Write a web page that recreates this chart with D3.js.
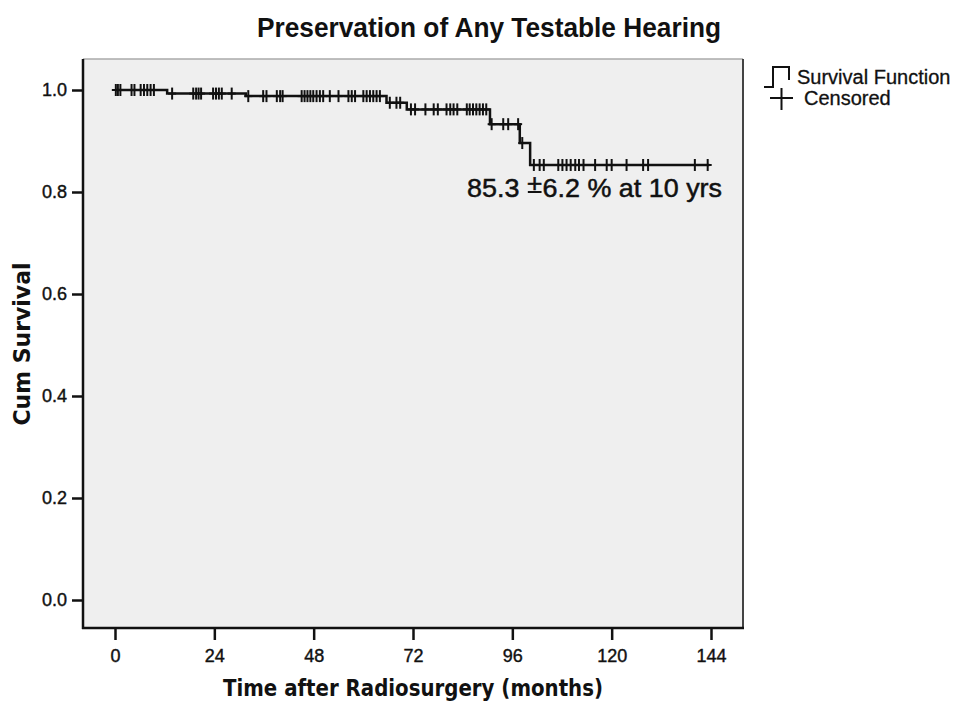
<!DOCTYPE html>
<html>
<head>
<meta charset="utf-8">
<script src="https://cdn.jsdelivr.net/npm/d3@7"></script>
<style>
  body { margin: 0; background: #fff; }
  svg { display: block; }
  text { font-family: "Liberation Sans", Arial, sans-serif; fill: #111; }
</style>
</head>
<body>
<svg id="chart" width="963" height="703"></svg>
<script>
// Kaplan-Meier steps: time of each event (months) and survival after it
const eventTimes = [12.6, 31.6, 65.6, 70.5, 90.6, 97.8, 100.3]
const eventSurvival = [0.993, 0.988, 0.975, 0.962, 0.933, 0.896, 0.853]
const followUpEnd = 143.6

// censored patients (months)
const censoredTimes = [
    0.2, 0.7, 1.3, 4.0, 4.7, 6.2, 7.0, 7.8, 8.6, 9.4,
    13.8, 18.9, 19.6, 20.2, 20.8, 23.7, 24.4, 25.1, 25.8, 28.2,
    32.2, 35.8, 36.6, 39.1, 39.9, 40.5, 45.1, 45.8, 46.5, 47.2, 47.9, 48.7, 49.5, 50.3,
    51.9, 54.0, 56.4, 57.2, 58.0, 60.0, 60.8, 61.6, 62.4, 63.2, 64.0,
    66.4, 68.0, 68.9,
    71.5, 72.5, 75.0, 77.0, 78.0, 80.1, 81.0, 81.8, 82.7, 85.0, 85.7, 86.5, 87.3, 88.1, 88.9, 89.7,
    91.0, 93.8, 95.0, 97.4,
    98.4,
    101.2, 102.6, 103.6, 107.1, 108.1, 109.1, 110.1, 111.2, 112.1, 113.2, 116.0, 118.8, 120.0,
    123.6, 127.6, 128.8, 140.1, 143.2
]

const xTicks = [0, 24, 48, 72, 96, 120, 144]
const yTicks = [0, 0.2, 0.4, 0.6, 0.8, 1.0]

const chartTitle = "Preservation of Any Testable Hearing"
const xTitle = "Time after Radiosurgery (months)"
const yTitle = "Cum Survival"
const note = ["85.3 ", "+", "6.2 % at 10 yrs"]

const frame = { left: 83, right: 743, top: 59, bottom: 628 }

const svg = d3.select("#chart")

const x = d3.scaleLinear().domain([0, 144]).range([115, 711])
const y = d3.scaleLinear().domain([0, 1]).range([600, 90])

// plot background + frame
svg.append("rect")
    .attr("x", frame.left).attr("y", frame.top)
    .attr("width", frame.right - frame.left)
    .attr("height", frame.bottom - frame.top)
    .attr("fill", "#efefef")
svg.append("line")
    .attr("x1", frame.left).attr("x2", frame.right)
    .attr("y1", frame.top).attr("y2", frame.top)
    .attr("stroke", "#aaa").attr("stroke-width", 1.5)
svg.append("line")
    .attr("x1", frame.right).attr("x2", frame.right)
    .attr("y1", frame.top).attr("y2", frame.bottom)
    .attr("stroke", "#444").attr("stroke-width", 2)

// axes
svg.append("g")
    .attr("transform", "translate(" + frame.left + ",0)")
    .call(d3.axisLeft(y).tickValues(yTicks).tickFormat(d3.format(".1f"))
        .tickSize(11).tickPadding(5))
svg.append("g")
    .attr("transform", "translate(0," + frame.bottom + ")")
    .call(d3.axisBottom(x).tickValues(xTicks).tickSize(12).tickPadding(9))

svg.selectAll(".domain").remove()
svg.selectAll(".tick line").attr("stroke", "#111").attr("stroke-width", 2.5)
svg.selectAll(".tick text")
    .attr("font-size", 18)
    .style("font-family", "'Liberation Sans', Arial, sans-serif")
    .attr("fill", "#111")
    .attr("stroke", "#111")
    .attr("stroke-width", 0.4)

svg.append("line")
    .attr("x1", frame.left).attr("x2", frame.left)
    .attr("y1", frame.top).attr("y2", frame.bottom + 1)
    .attr("stroke", "#111").attr("stroke-width", 2.5)
svg.append("line")
    .attr("x1", frame.left - 1).attr("x2", frame.right + 1)
    .attr("y1", frame.bottom).attr("y2", frame.bottom)
    .attr("stroke", "#111").attr("stroke-width", 2.5)

// survival step function
const steps = [[0, 1]]
eventTimes.forEach((t, i) => steps.push([t, eventSurvival[i]]))
steps.push([followUpEnd, eventSurvival[eventSurvival.length - 1]])

const line = d3.line()
    .x(d => x(d[0]))
    .y(d => y(d[1]))
    .curve(d3.curveStepAfter)

svg.append("path")
    .datum(steps)
    .attr("d", line)
    .attr("fill", "none")
    .attr("stroke", "#111")
    .attr("stroke-width", 2.5)

// survival value at a time
const survAt = t => {
    let s = 1
    eventTimes.forEach((e, i) => { if (t >= e) s = eventSurvival[i] })
    return s
}

const marks = svg.append("g").attr("stroke", "#111").attr("stroke-width", 2)
marks.selectAll("line.v")
    .data(censoredTimes)
    .enter()
    .append("line")
    .attr("class", "v")
    .attr("x1", d => x(d)).attr("x2", d => x(d))
    .attr("y1", d => y(survAt(d)) - 6).attr("y2", d => y(survAt(d)) + 6)
marks.selectAll("line.h")
    .data(censoredTimes)
    .enter()
    .append("line")
    .attr("class", "h")
    .attr("x1", d => x(d) - 4).attr("x2", d => x(d) + 4)
    .attr("y1", d => y(survAt(d))).attr("y2", d => y(survAt(d)))

// annotation, with the "+" raised and underlined
const noteText = svg.append("text")
    .attr("x", 467).attr("y", 197)
    .attr("font-size", 26)
    .attr("stroke", "#111")
    .attr("stroke-width", 0.5)
    .attr("textLength", 255)
    .attr("lengthAdjust", "spacingAndGlyphs")
noteText.selectAll("tspan")
    .data(note)
    .enter()
    .append("tspan")
    .attr("dy", (d, i) => i === 1 ? -5 : i === 2 ? 5 : 0)
    .text(d => d)
const plusBox = noteText.node().getExtentOfChar(note[0].length)
svg.append("line")
    .attr("x1", plusBox.x + 1).attr("x2", plusBox.x + plusBox.width - 1)
    .attr("y1", 192).attr("y2", 192)
    .attr("stroke", "#111").attr("stroke-width", 2)

// titles
svg.append("text")
    .attr("x", 489).attr("y", 37)
    .attr("text-anchor", "middle")
    .attr("font-size", 27)
    .attr("font-weight", "bold")
    .attr("textLength", 464)
    .attr("lengthAdjust", "spacingAndGlyphs")
    .text(chartTitle)

svg.append("text")
    .attr("x", 413).attr("y", 696)
    .attr("text-anchor", "middle")
    .attr("font-size", 23)
    .attr("font-weight", "bold")
    .style("font-family", "'DejaVu Sans', Verdana, sans-serif")
    .attr("textLength", 380)
    .attr("lengthAdjust", "spacingAndGlyphs")
    .text(xTitle)

svg.append("text")
    .attr("transform", "translate(30,344) rotate(-90)")
    .attr("text-anchor", "middle")
    .attr("font-size", 23)
    .attr("font-weight", "bold")
    .style("font-family", "'DejaVu Sans', Verdana, sans-serif")
    .attr("textLength", 163)
    .attr("lengthAdjust", "spacingAndGlyphs")
    .text(yTitle)

// legend
const legend = svg.append("g")
legend.append("path")
    .attr("d", "M764,87H773V67H789V80")
    .attr("fill", "none").attr("stroke", "#111").attr("stroke-width", 2)
legend.append("text")
    .attr("x", 797).attr("y", 84)
    .attr("font-size", 20)
    .attr("stroke", "#111").attr("stroke-width", 0.3)
    .text("Survival Function")
legend.append("path")
    .attr("d", "M770,98H793M781.5,88V110")
    .attr("fill", "none").attr("stroke", "#111").attr("stroke-width", 2)
legend.append("text")
    .attr("x", 804).attr("y", 105)
    .attr("font-size", 20)
    .attr("stroke", "#111").attr("stroke-width", 0.3)
    .text("Censored")
</script>
</body>
</html>
